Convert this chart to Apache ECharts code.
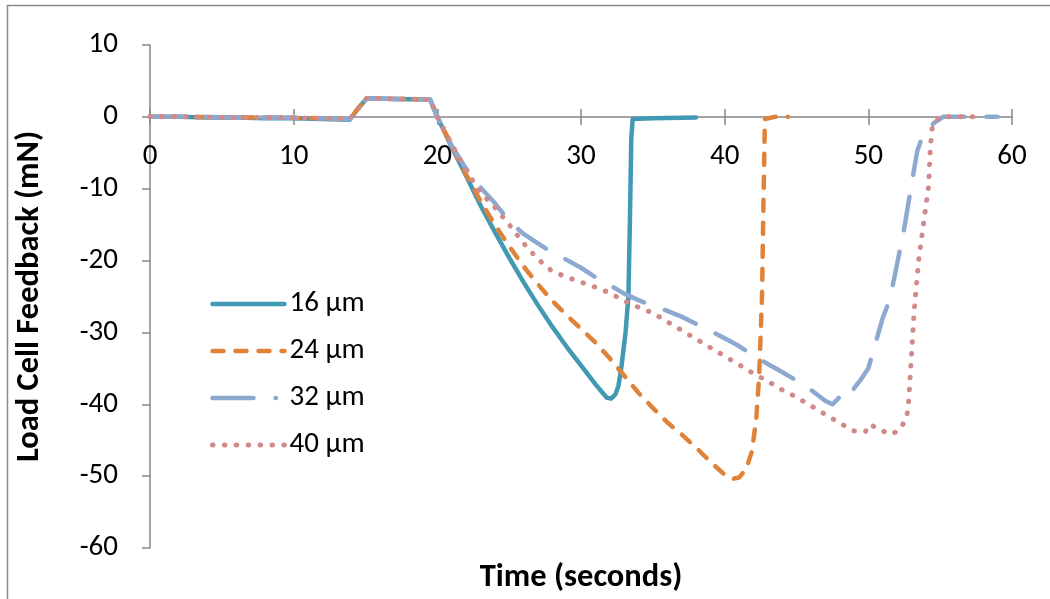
<!DOCTYPE html>
<html>
<head>
<meta charset="utf-8">
<script src="https://cdn.jsdelivr.net/npm/echarts@6/dist/echarts.min.js"></script>
<style>
  html, body { margin: 0; padding: 0; background: #fff; }
  #chart { width: 1050px; height: 599px; }
</style>
</head>
<body>
<div id="chart"></div>
<script>
// Load cell feedback (mN) against time (s) for four layer thicknesses
const seriesNames = ['16 µm', '24 µm', '32 µm', '40 µm'];

const time16 = [0, 2, 4, 6, 8, 10, 12, 13.9, 14.5, 15.1, 17, 19.5, 20, 21, 22, 23, 24, 25, 26, 27, 28, 29, 30, 31, 31.5, 31.8, 32.1, 32.4, 32.6, 32.8, 33.1, 33.3, 33.4, 33.5, 33.6, 35, 38];
const load16 = [0, 0, -0.1, -0.1, -0.2, -0.2, -0.3, -0.4, 1.2, 2.6, 2.5, 2.4, 0, -4.2, -8.2, -12.3, -16, -19.6, -23, -26.2, -29.2, -32, -34.6, -37.2, -38.4, -39.1, -39.2, -38.6, -37.5, -35, -30, -25, -15, -3, -0.3, -0.2, -0.1];

const time24 = [0, 3, 6, 9, 12, 13.9, 14.5, 15.1, 17, 19.5, 20, 21, 22, 23, 24, 25, 26, 27, 28, 29, 30, 31, 32, 33, 34, 35, 36, 37, 38, 39, 40, 40.5, 41, 41.5, 41.9, 42.2, 42.4, 42.6, 42.7, 42.8, 43.5, 44.4];
const load24 = [0, 0, -0.1, -0.1, -0.2, -0.3, 1.2, 2.6, 2.5, 2.4, 0, -4, -8, -11.7, -15, -18, -20.8, -23.3, -25.6, -27.6, -29.5, -31.4, -33.6, -36, -38.4, -40.5, -42.5, -44.2, -46, -48, -49.8, -50.4, -50.2, -49, -46.5, -42, -36, -25, -12, -0.3, 0, 0];

const time32 = [0, 3, 6, 9, 12, 13.9, 14.5, 15.1, 17, 19.5, 20, 21, 22, 23, 24, 25, 26, 27, 28, 29, 30, 31, 32, 33, 34, 35, 36, 37, 38, 39, 40, 41, 42, 43, 44, 45, 46, 47, 47.5, 48, 48.5, 49, 49.5, 50, 50.5, 51, 51.5, 52, 52.5, 53, 53.4, 53.8, 54.2, 54.6, 55.2, 57, 59];
const load32 = [0, 0, -0.1, -0.1, -0.2, -0.3, 1.2, 2.6, 2.5, 2.4, 0, -4, -7.2, -9.8, -12, -14.5, -16.3, -17.6, -18.9, -19.9, -21, -22.3, -23.4, -24.6, -25.5, -26.3, -27, -27.8, -28.8, -29.8, -30.8, -31.9, -33.2, -34.4, -35.5, -36.7, -38, -39.5, -40, -39, -39.4, -37.8, -36.5, -35, -31.5, -28, -25.4, -20.5, -15.5, -9.5, -4.8, -2.5, -1.6, -0.8, 0, 0, 0];

const time40 = [0, 3, 6, 9, 12, 13.9, 14.5, 15.1, 17, 19.5, 20, 21, 21.8, 22.5, 23, 24, 25, 26, 27, 28, 29, 30, 31, 32, 33, 34, 35, 36, 37, 38, 39, 40, 41, 42, 43, 44, 45, 46, 47, 48, 49, 49.8, 50.1, 50.8, 51.5, 52.1, 52.5, 52.7, 52.8, 52.9, 53, 53.1, 53.2, 53.5, 53.9, 54.2, 54.3, 54.4, 54.5, 55, 57.3];
const load40 = [0, 0, -0.1, -0.1, -0.2, -0.3, 1.2, 2.6, 2.5, 2.4, 0, -3.8, -6.7, -9, -10.5, -12.6, -15, -17.6, -19.8, -21.5, -22.3, -23, -23.7, -24.5, -25.6, -26.5, -27.3, -28.5, -29.7, -30.9, -32.1, -33.3, -34.5, -35.7, -36.8, -38, -39, -40.2, -41.4, -42.6, -43.7, -43.8, -42.8, -43.5, -44.2, -43.7, -42.5, -41.4, -39.8, -36.5, -33.3, -30, -26.8, -20, -14, -9.5, -5, -2.2, -0.9, 0, 0];

const xTicks = { min: 0, max: 60, step: 10 };
const yTicks = { min: -60, max: 10, step: 10 };

const FONT = 'Carlito, Lato, sans-serif';
const AXIS_GREY = '#878787';
const LINE_W = 4.5;

// Plot box in pixels; the time axis is drawn where load = 0
const PLOT = { left: 150, right: 38, top: 45, bottom: 50, height: 599 - 45 - 50 };
const zeroOffset = PLOT.height * (yTicks.max - 0) / (yTicks.max - yTicks.min);

function pairs(t, v) { return t.map((x, i) => [x, v[i]]); }

// line colour, width, dash pattern on the plot, dash pattern in the legend swatch
const styles = [
  { color: '#4199B4', width: LINE_W, type: 'solid', legendType: 'solid' },
  { color: '#E0833A', width: LINE_W, type: [11, 12], legendType: [11, 12] },
  { color: '#8EA9D1', width: LINE_W, type: [34, 22], legendType: [41, 22, 0.5, 30] },
  { color: '#D08A8A', width: 5, type: [0.5, 11.4], legendType: [0.5, 11.4] }
];
const dataSets = [pairs(time16, load16), pairs(time24, load24), pairs(time32, load32), pairs(time40, load40)];

const chart = echarts.init(document.getElementById('chart'), null, { renderer: 'canvas' });

const tickStyle = { color: AXIS_GREY, width: 1.5 };
const hiddenY = { type: 'value', show: false, min: 0, max: 1 };

chart.setOption({
  backgroundColor: '#fff',
  animation: false,
  grid: [
    // main plot
    { left: PLOT.left, right: PLOT.right, top: PLOT.top, bottom: PLOT.bottom },
    // band above zero: its bottom edge carries the time axis
    { left: PLOT.left, right: PLOT.right, top: PLOT.top, height: zeroOffset },
    // band below zero: its top edge carries the lower half of each tick
    { left: PLOT.left, right: PLOT.right, top: PLOT.top + zeroOffset, bottom: PLOT.bottom }
  ],
  graphic: [{
    type: 'rect',
    shape: { x: 7.5, y: 5.5, width: 1200, height: 800 },
    style: { fill: null, stroke: '#8a8a8a', lineWidth: 1.5 },
    silent: true
  }],
  legend: {
    orient: 'vertical',
    left: 205,
    top: 283,
    itemWidth: 72,
    itemHeight: 14,
    itemGap: 15,
    itemStyle: { color: 'rgba(0,0,0,0)', borderColor: 'rgba(0,0,0,0)', borderWidth: 0, opacity: 0 },
    textStyle: { fontFamily: FONT, fontSize: 29, lineHeight: 32, color: '#000' },
    data: seriesNames.map((name, i) => ({
      name,
      lineStyle: { color: styles[i].color, width: styles[i].width, type: styles[i].legendType, cap: 'round' }
    }))
  },
  xAxis: [
    {
      gridIndex: 0,
      type: 'value', min: xTicks.min, max: xTicks.max, interval: xTicks.step,
      position: 'bottom',
      axisLine: { show: false, onZero: false },
      axisTick: { show: false },
      axisLabel: { show: false },
      splitLine: { show: false },
      name: 'Time (seconds)',
      nameLocation: 'middle',
      nameGap: 13,
      nameTextStyle: { fontFamily: FONT, fontSize: 32.5, fontWeight: 'bold', color: '#000', verticalAlign: 'top' }
    },
    {
      gridIndex: 1,
      type: 'value', min: xTicks.min, max: xTicks.max, interval: xTicks.step,
      position: 'bottom',
      axisLine: { show: true, onZero: false, lineStyle: tickStyle },
      axisTick: { show: true, inside: true, length: 8, lineStyle: tickStyle },
      axisLabel: { fontFamily: FONT, fontSize: 29, color: '#000', margin: 25 },
      splitLine: { show: false }
    },
    {
      gridIndex: 2,
      type: 'value', min: xTicks.min, max: xTicks.max, interval: xTicks.step,
      position: 'top',
      axisLine: { show: false, onZero: false },
      axisTick: { show: true, inside: true, length: 8, lineStyle: tickStyle },
      axisLabel: { show: false },
      splitLine: { show: false }
    }
  ],
  yAxis: [
    {
      gridIndex: 0,
      type: 'value', min: yTicks.min, max: yTicks.max, interval: yTicks.step,
      axisLine: { show: true, onZero: false, lineStyle: tickStyle },
      axisTick: { show: true, inside: false, length: 8, lineStyle: tickStyle },
      axisLabel: { fontFamily: FONT, fontSize: 29, color: '#000', margin: 32 },
      splitLine: { show: false },
      name: 'Load Cell Feedback (mN)',
      nameLocation: 'middle',
      nameGap: 104,
      nameTextStyle: { fontFamily: FONT, fontSize: 32.5, fontWeight: 'bold', color: '#000' }
    },
    Object.assign({ gridIndex: 1 }, hiddenY),
    Object.assign({ gridIndex: 2 }, hiddenY)
  ],
  series: seriesNames.map((name, i) => ({
    name,
    type: 'line',
    xAxisIndex: 0,
    yAxisIndex: 0,
    data: dataSets[i],
    showSymbol: false,
    symbol: 'none',
    smooth: false,
    z: 3,
    color: styles[i].color,
    lineStyle: { color: styles[i].color, width: styles[i].width, type: styles[i].type, cap: 'round', join: 'round' }
  }))
});
</script>
</body>
</html>
